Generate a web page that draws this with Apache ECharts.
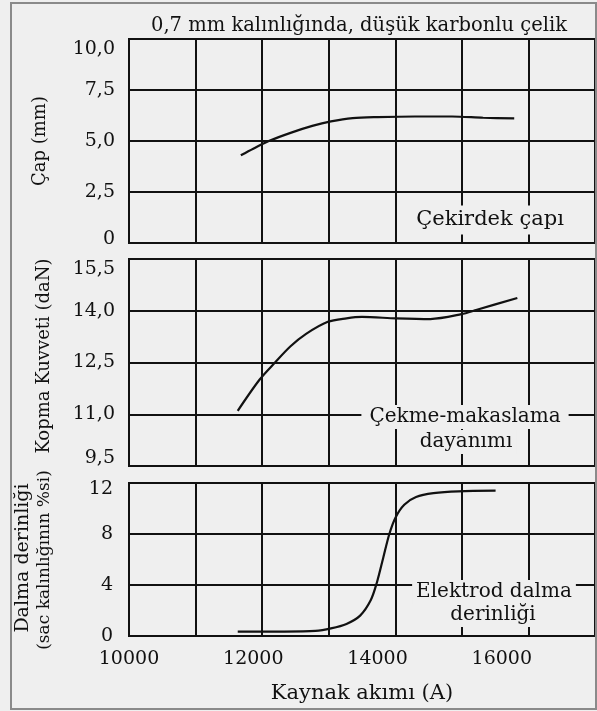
<!DOCTYPE html>
<html>
<head>
<meta charset="utf-8">
<script src="https://cdn.jsdelivr.net/npm/echarts@6/dist/echarts.min.js"></script>
<style>html,body{margin:0;padding:0;background:#efefef;}#c{width:597px;height:711px;}</style>
</head>
<body>
<div id="c"></div>
<script>
// ---- data ----
const xLabels = ['10000', '12000', '14000', '16000'];
const capTicks = ['0', '2,5', '5,0', '7,5', '10,0'];
const kopmaTicks = ['9,5', '11,0', '12,5', '14,0', '15,5'];
const dalmaTicks = ['0', '4', '8', '12'];

const capX = [11800, 12000, 12250, 12600, 12950, 13250, 13600, 14000, 14600, 15200, 15700, 16200];
const capY = [4.3, 4.62, 5.0, 5.4, 5.74, 5.96, 6.12, 6.17, 6.2, 6.2, 6.14, 6.11];

const kopmaX = [11750, 12100, 12350, 12600, 12850, 13200, 13500, 13750, 14300, 14850, 15350, 15600, 16250];
const kopmaY = [11.1, 12.0, 12.5, 12.97, 13.33, 13.68, 13.78, 13.82, 13.78, 13.76, 13.9, 14.03, 14.37];

const dalmaX = [11750, 12500, 13000, 13250, 13500, 13720, 13890, 13990, 14090, 14190, 14290, 14430, 14620, 14900, 15300, 15900];
const dalmaY = [0.35, 0.35, 0.4, 0.6, 0.95, 1.6, 2.8, 4.2, 6.1, 8.0, 9.3, 10.3, 10.9, 11.2, 11.35, 11.4];

const titleText = '0,7 mm kalınlığında, düşük karbonlu çelik';
const xName = 'Kaynak akımı (A)';

// ---- chart ----
const FONT = 'DejaVu Serif';
const INK = '#111111';
const BG = '#efefef';
const chart = echarts.init(document.getElementById('c'), null, {renderer: 'canvas'});

function pairs(xs, ys) { return xs.map((x, i) => [x, ys[i]]); }

const gridBase = {left: 129, width: 466, show: true, borderColor: INK, borderWidth: 2,
  backgroundColor: 'transparent', containLabel: false, outerBoundsMode: 'none'};
const split = {show: true, lineStyle: {color: INK, width: 2}};
const labelBase = {color: INK, fontFamily: FONT, fontSize: 19};

function dataX(gi, extra) {
  return Object.assign({
    type: 'value', gridIndex: gi, min: 10000, max: 17500,
    axisLine: {show: false}, axisTick: {show: false}, splitLine: {show: false},
    axisLabel: {show: false}
  }, extra || {});
}
function gridX(gi) {
  return {type: 'value', gridIndex: gi, min: 0, max: 7, interval: 1, position: 'top',
    axisLine: {show: false}, axisTick: {show: false}, axisLabel: {show: false}, splitLine: split};
}
function endRich() {
  return {
    t: Object.assign({}, labelBase, {padding: [20, 0, 0, 0]}),
    tm: Object.assign({}, labelBase, {padding: [12, 0, 0, 0]}),
    b: Object.assign({}, labelBase, {padding: [0, 0, 8, 0]}),
    bm: Object.assign({}, labelBase, {padding: [0, 0, 16, 0]}),
    n: Object.assign({}, labelBase)
  };
}
const lineStyle = {color: INK, width: 2.2};

const option = {
  backgroundColor: BG,
  animation: false,
  title: {
    text: titleText, left: 146, top: 11,
    textStyle: {fontFamily: FONT, fontSize: 19.5, fontWeight: 'normal', color: INK}
  },
  grid: [
    Object.assign({top: 39, height: 204}, gridBase),
    Object.assign({top: 259, height: 207}, gridBase),
    Object.assign({top: 483, height: 153}, gridBase)
  ],
  xAxis: [
    dataX(0),
    dataX(1),
    dataX(2, {
      interval: 2000, position: 'bottom',
      axisLabel: Object.assign({show: true, margin: 14, showMaxLabel: false,
        formatter: v => xLabels[Math.round((v - 10000) / 2000)] || ''}, labelBase),
      name: xName, nameLocation: 'middle', nameGap: 47,
      nameTextStyle: {fontFamily: FONT, fontSize: 21, color: INK}
    }),
    gridX(0), gridX(1), gridX(2)
  ],
  yAxis: [
    {type: 'value', gridIndex: 0, position: 'left', min: 0, max: 10, interval: 2.5,
      axisLine: {show: false}, axisTick: {show: false}, splitLine: split,
      axisLabel: {margin: 14, rich: endRich(), formatter: v => {
        const i = Math.round(v / 2.5); const s = capTicks[i];
        return i === capTicks.length - 1 ? '{t|' + s + '}' : (i === 0 ? '{b|' + s + '}' : '{n|' + s + '}');
      }}},
    {type: 'value', gridIndex: 1, position: 'right', min: 9.5, max: 15.5,
      axisLine: {show: false}, axisTick: {show: false}, splitLine: {show: false}, axisLabel: {show: false}},
    {type: 'value', gridIndex: 1, position: 'left', min: 0, max: 4, interval: 1,
      axisLine: {show: false}, axisTick: {show: false}, splitLine: split,
      axisLabel: {margin: 14, rich: endRich(), formatter: v => {
        const i = Math.round(v); const s = kopmaTicks[i];
        return i === kopmaTicks.length - 1 ? '{t|' + s + '}' : (i === 0 ? '{bm|' + s + '}' : '{n|' + s + '}');
      }}},
    {type: 'value', gridIndex: 2, position: 'left', min: 0, max: 12, interval: 4,
      axisLine: {show: false}, axisTick: {show: false}, splitLine: split,
      axisLabel: {margin: 16, rich: endRich(), formatter: v => {
        const i = Math.round(v / 4); const s = dalmaTicks[i];
        return i === dalmaTicks.length - 1 ? '{tm|' + s + '}' : '{n|' + s + '}';
      }}}
  ],
  series: [
    {type: 'line', name: 'Çekirdek çapı', xAxisIndex: 0, yAxisIndex: 0, data: pairs(capX, capY),
      smooth: 0.3, showSymbol: false, lineStyle: lineStyle, z: 5},
    {type: 'line', name: 'Çekme-makaslama dayanımı', xAxisIndex: 1, yAxisIndex: 1, data: pairs(kopmaX, kopmaY),
      smooth: 0.3, showSymbol: false, lineStyle: lineStyle, z: 5},
    {type: 'line', name: 'Elektrod dalma derinliği', xAxisIndex: 2, yAxisIndex: 3, data: pairs(dalmaX, dalmaY),
      smooth: 0.3, showSymbol: false, lineStyle: lineStyle, z: 5}
  ],
  graphic: [
    {type: 'rect', z: 50, silent: true, shape: {x: 11, y: 3, width: 585, height: 706},
      style: {fill: 'none', stroke: '#8a8a8a', lineWidth: 2}},
    // y axis names
    {type: 'text', z: 50, x: 40, y: 141, rotation: Math.PI / 2,
      style: {text: 'Çap (mm)', font: '18px "DejaVu Serif"', fill: INK, align: 'center', verticalAlign: 'middle'}},
    {type: 'text', z: 50, x: 44, y: 356, rotation: Math.PI / 2,
      style: {text: 'Kopma Kuvveti (daN)', font: '18px "DejaVu Serif"', fill: INK, align: 'center', verticalAlign: 'middle'}},
    {type: 'text', z: 50, x: 23, y: 558, rotation: Math.PI / 2,
      style: {text: 'Dalma derinliği', font: '19px "DejaVu Serif"', fill: INK, align: 'center', verticalAlign: 'middle'}},
    {type: 'text', z: 50, x: 45, y: 560, rotation: Math.PI / 2,
      style: {text: '(sac kalınlığının %si)', font: '17px "DejaVu Serif"', fill: INK, align: 'center', verticalAlign: 'middle'}},
    // in-plot annotations
    {type: 'text', z: 50, x: 490, y: 220,
      style: {text: 'Çekirdek çapı', font: '21px "DejaVu Serif"', fill: INK, align: 'center', verticalAlign: 'middle',
        backgroundColor: BG, padding: [4, 8]}},
    {type: 'text', z: 50, x: 465, y: 417,
      style: {text: 'Çekme-makaslama', font: '20px "DejaVu Serif"', fill: INK, align: 'center', verticalAlign: 'middle',
        backgroundColor: BG, padding: [2, 8]}},
    {type: 'text', z: 50, x: 466, y: 442,
      style: {text: 'dayanımı', font: '20px "DejaVu Serif"', fill: INK, align: 'center', verticalAlign: 'middle',
        backgroundColor: BG, padding: [2, 4]}},
    {type: 'text', z: 50, x: 494, y: 592,
      style: {text: 'Elektrod dalma', font: '20px "DejaVu Serif"', fill: INK, align: 'center', verticalAlign: 'middle',
        backgroundColor: BG, padding: [2, 4]}},
    {type: 'text', z: 50, x: 493, y: 615,
      style: {text: 'derinliği', font: '20px "DejaVu Serif"', fill: INK, align: 'center', verticalAlign: 'middle',
        backgroundColor: BG, padding: [2, 4]}}
  ]
};
chart.setOption(option);
</script>
</body>
</html>
